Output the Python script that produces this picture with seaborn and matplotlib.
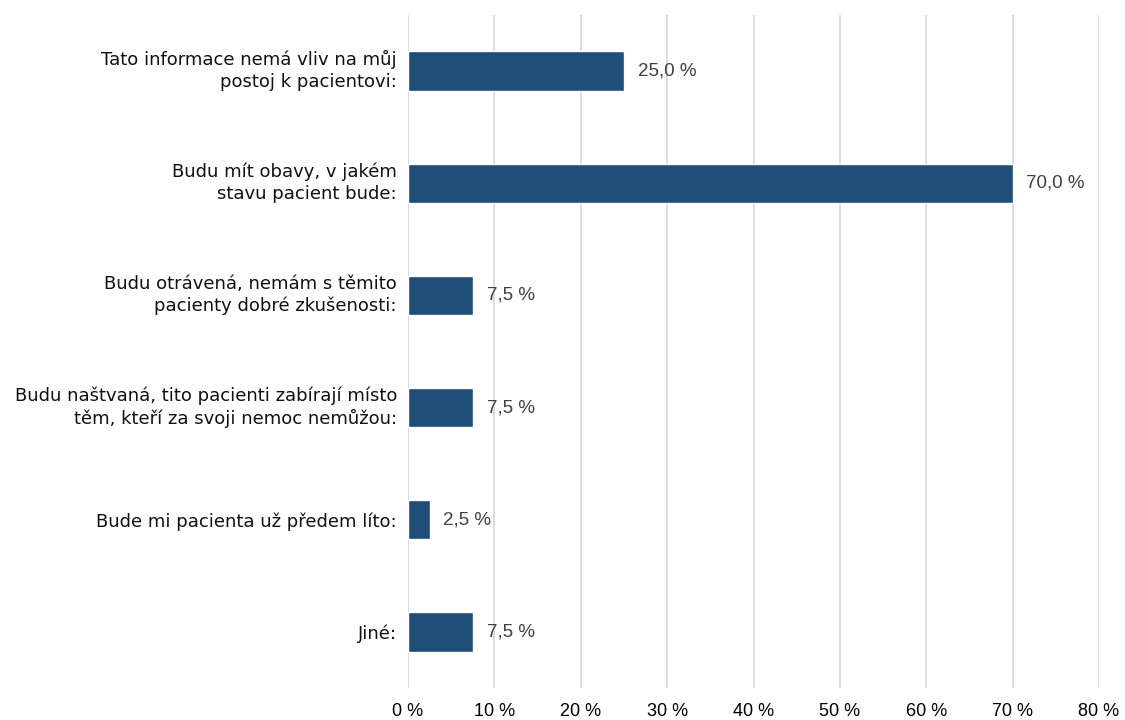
import matplotlib
matplotlib.use("Agg")
import matplotlib.pyplot as plt
import matplotlib.transforms as mtransforms
import seaborn as sns
import pandas as pd

categories = [
    "Tato informace nemá vliv na můj\npostoj k pacientovi:",
    "Budu mít obavy, v jakém\nstavu pacient bude:",
    "Budu otrávená, nemám s těmito\npacienty dobré zkušenosti:",
    "Budu naštvaná, tito pacienti zabírají místo\ntěm, kteří za svoji nemoc nemůžou:",
    "Bude mi pacienta už předem líto:",
    "Jiné:",
]
values = [25.0, 70.0, 7.5, 7.5, 2.5, 7.5]
ticks = [0, 10, 20, 30, 40, 50, 60, 70, 80]

df = pd.DataFrame({"kategorie": categories, "podil": values})

sns.set_theme(style="white")
fig = plt.figure(figsize=(11.25, 7.2), dpi=100)
ax = fig.add_axes([408 / 1125, 1 - 688 / 720, (1099 - 408) / 1125, (688 - 15) / 720])

sns.barplot(data=df, x="podil", y="kategorie", orient="h", color="#1F4E79",
            saturation=1, width=0.35, ax=ax)

ax.set_xlim(0, 80)
ax.set_ylim(5.5, -0.5)
ax.set_xticks(ticks)
ax.set_xticklabels([f"{t} %" for t in ticks], fontsize=13, family="Liberation Sans", color="black")
ax.tick_params(axis="x", length=0, pad=11)
ax.tick_params(axis="y", length=0, pad=8)

# nudge the category labels up slightly so each block sits centred on its bar
nudge = mtransforms.ScaledTranslation(0, 3 / 72, fig.dpi_scale_trans)
for lab in ax.get_yticklabels():
    lab.set_fontsize(13)
    lab.set_family("DejaVu Sans")
    lab.set_color("#111111")
    lab.set_horizontalalignment("right")
    lab.set_multialignment("right")
    lab.set_linespacing(1.27)
    if "\n" in lab.get_text():
        lab.set_transform(lab.get_transform() + nudge)
ax.set_xlabel("")
ax.set_ylabel("")

ax.grid(axis="x", color="#D9D9D9", linewidth=1.3)
ax.set_axisbelow(True)
for s in ax.spines.values():
    s.set_visible(False)

for i, v in enumerate(values):
    ax.text(v + 1.6, i, f"{v:.1f} %".replace(".", ","), va="center", ha="left",
            fontsize=13.5, family="Liberation Sans", color="#404040")

fig.savefig("out.png", dpi=100)
